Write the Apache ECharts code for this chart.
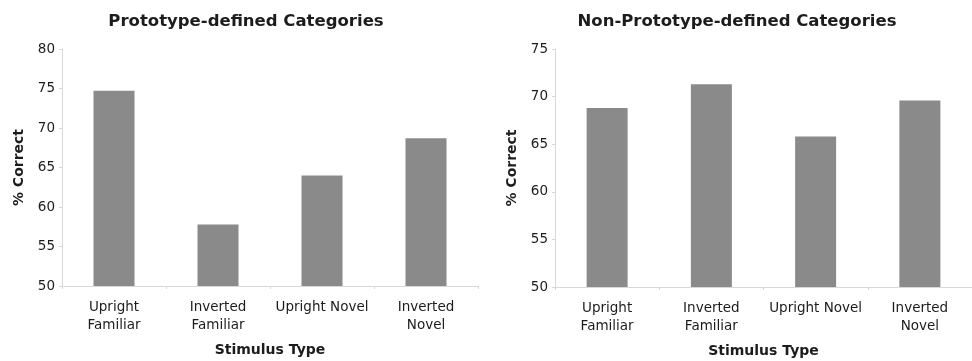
<!DOCTYPE html>
<html><head><meta charset="utf-8">
<script src="https://cdn.jsdelivr.net/npm/echarts@6/dist/echarts.min.js"></script>
<style>html,body{margin:0;padding:0;background:#fff}#c{width:972px;height:361px}</style>
</head><body><div id="c"></div>
<script>
const categories = ['Upright\nFamiliar', 'Inverted\nFamiliar', 'Upright Novel', 'Inverted\nNovel'];
const protoValues = [74.7, 57.8, 64.0, 68.7];
const nonProtoValues = [68.8, 71.3, 65.8, 69.6];
const leftTitle = 'Prototype-defined Categories';
const rightTitle = 'Non-Prototype-defined Categories';
const yName = '% Correct';
const xName = 'Stimulus Type';

const font = 'DejaVu Sans, Verdana, sans-serif';
const txt = '#1c1c1c';
const axisCol = '#d8d8d8';
const barCol = '#8a8a8a';

function xAxis(gi){
  return {
    type:'category', gridIndex:gi, data:categories,
    name:xName, nameLocation:'middle', nameGap:57,
    nameTextStyle:{fontFamily:font,fontWeight:'bold',fontSize:14,color:txt},
    axisLine:{lineStyle:{color:axisCol}},
    axisTick:{show:true,length:3,lineStyle:{color:axisCol}},
    axisLabel:{fontFamily:font,fontSize:13.5,color:txt,margin:12,lineHeight:18,interval:0}
  };
}
function yAxis(gi,min,max){
  return {
    type:'value', gridIndex:gi, min:min, max:max, interval:5,
    name:yName, nameLocation:'middle', nameGap:36, nameRotate:90,
    nameTextStyle:{fontFamily:font,fontWeight:'bold',fontSize:14,color:txt},
    axisLine:{show:true,lineStyle:{color:axisCol}},
    axisTick:{show:true,length:3,lineStyle:{color:axisCol}},
    splitLine:{show:false},
    axisLabel:{fontFamily:font,fontSize:13.5,color:txt,margin:7}
  };
}
const chart = echarts.init(document.getElementById('c'));
chart.setOption({
  animation:false,
  backgroundColor:'#fff',
  title:[
    {text:leftTitle,left:241,top:8,textAlign:'center',textStyle:{fontFamily:font,fontWeight:'bold',fontSize:16.5,color:txt}},
    {text:rightTitle,left:732,top:8,textAlign:'center',textStyle:{fontFamily:font,fontWeight:'bold',fontSize:16.5,color:txt}}
  ],
  grid:[
    {left:62,top:49,width:416,height:237,containLabel:false,outerBoundsMode:'none'},
    {left:555,top:49,width:417,height:238,containLabel:false,outerBoundsMode:'none'}
  ],
  xAxis:[xAxis(0),xAxis(1)],
  yAxis:[yAxis(0,50,80),yAxis(1,50,75)],
  series:[
    {type:'bar',xAxisIndex:0,yAxisIndex:0,data:protoValues,barWidth:41,itemStyle:{color:barCol}},
    {type:'bar',xAxisIndex:1,yAxisIndex:1,data:nonProtoValues,barWidth:41,itemStyle:{color:barCol}}
  ]
});
</script></body></html>
